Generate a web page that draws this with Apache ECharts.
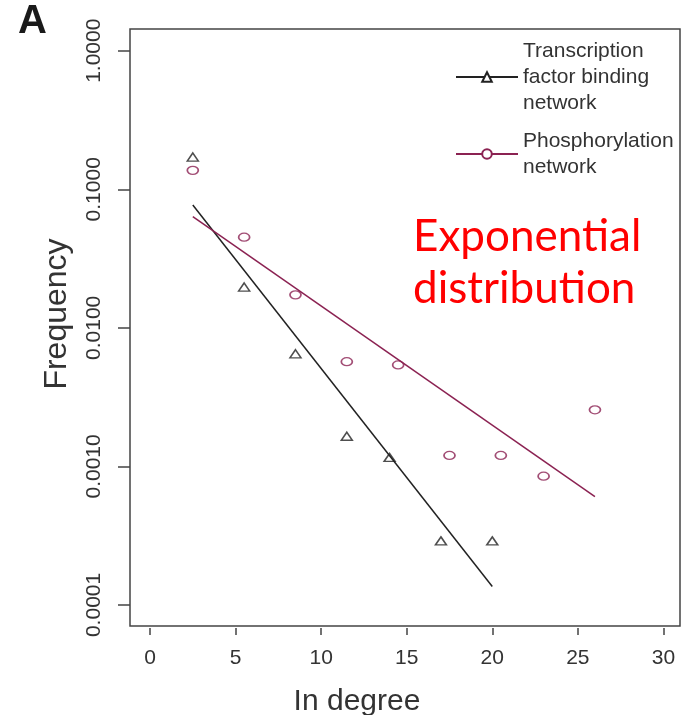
<!DOCTYPE html>
<html>
<head>
<meta charset="utf-8">
<script src="https://cdn.jsdelivr.net/npm/echarts@6/dist/echarts.min.js"></script>
<style>
  html, body { margin: 0; padding: 0; background: #fff; }
  #chart { width: 683px; height: 715px; }
</style>
</head>
<body>
<div id="chart"></div>
<script>
// in degree / frequency
var tfDegree = [2.5, 5.5, 8.5, 11.5, 14, 17, 20];
var tfFreq = [0.171, 0.0197, 0.0065, 0.00165, 0.00116, 0.00029, 0.00029];
var phDegree = [2.5, 5.5, 8.5, 11.5, 14.5, 17.5, 20.5, 23, 26];
var phFreq = [0.137, 0.0451, 0.0173, 0.0057, 0.0054, 0.0012, 0.0012, 0.00085, 0.00256];
// fitted exponential lines (end points)
var tfFitX = [2.5, 20];
var tfFitY = [0.0771, 0.000136];
var phFitX = [2.5, 26];
var phFitY = [0.0634, 0.000605];
// ticks
var xTicks = [0, 5, 10, 15, 20, 25, 30];
var yTicks = [0.0001, 0.001, 0.01, 0.1, 1];

var tfName = 'Transcription\nfactor binding\nnetwork';
var phName = 'Phosphorylation\nnetwork';
var black = '#222';
var purple = '#8B2252';
var font = 'Liberation Sans, Arial, sans-serif';

function pts(xs, ys) {
  return xs.map(function (x, i) { return [x, Math.log10(ys[i])]; });
}
var yTickLog = yTicks.map(function (v) { return Math.log10(v); });

var chart = echarts.init(document.getElementById('chart'));
chart.setOption({
  animation: false,
  backgroundColor: '#fff',
  textStyle: { fontFamily: font },
  grid: {
    left: 130, right: 3, top: 29, bottom: 89,
    outerBoundsMode: 'none',
    show: true, borderColor: '#444', borderWidth: 1.5
  },
  legend: {
    orient: 'vertical',
    left: 450, top: 33,
    itemWidth: 62, itemHeight: 12, itemGap: 12,
    textStyle: { fontSize: 21, lineHeight: 26, color: '#333', fontFamily: font },
    data: [tfName, phName]
  },
  xAxis: {
    type: 'value',
    min: -1.17, max: 30.97,
    offset: 2,
    name: 'In degree',
    nameLocation: 'middle',
    nameGap: 59,
    nameTextStyle: { fontSize: 30, color: '#333', fontFamily: font, padding: [0, 96, 0, 0] },
    axisLine: { show: false, onZero: false },
    splitLine: { show: false },
    axisTick: { customValues: xTicks, length: 7, lineStyle: { color: '#444', width: 1.5 } },
    axisLabel: { customValues: xTicks, fontSize: 21, color: '#333', margin: 20 }
  },
  yAxis: {
    type: 'value',
    min: -4.152, max: 0.157,
    name: 'Frequency',
    nameLocation: 'middle',
    nameGap: 57,
    nameTextStyle: { fontSize: 32, color: '#333', fontFamily: font, padding: [0, 0, 0, 27] },
    axisLine: { show: false, onZero: false },
    splitLine: { show: false },
    axisTick: { customValues: yTickLog, length: 12, lineStyle: { color: '#444', width: 1.5 } },
    axisLabel: {
      customValues: yTickLog, rotate: 90, fontSize: 21, color: '#333', margin: 25,
      formatter: function (v) { return Math.pow(10, v).toFixed(4); }
    }
  },
  series: [
    {
      name: tfName, type: 'line', data: pts(tfFitX, tfFitY),
      symbol: 'emptyTriangle', showSymbol: false,
      lineStyle: { color: black, width: 1.5 }, itemStyle: { color: black }
    },
    {
      name: phName, type: 'line', data: pts(phFitX, phFitY),
      symbol: 'emptyCircle', showSymbol: false,
      lineStyle: { color: purple, width: 1.5 }, itemStyle: { color: purple }
    },
    {
      name: 'tf points', type: 'scatter', data: pts(tfDegree, tfFreq),
      symbol: 'triangle', symbolSize: [11, 8],
      itemStyle: { color: 'rgba(0,0,0,0)', borderColor: black, borderWidth: 1.5 }
    },
    {
      name: 'ph points', type: 'scatter', data: pts(phDegree, phFreq),
      symbol: 'circle', symbolSize: [11, 8],
      itemStyle: { color: 'rgba(0,0,0,0)', borderColor: purple, borderWidth: 1.5 }
    }
  ],
  graphic: [
    {
      type: 'text', left: 18, top: 2,
      style: { text: 'A', font: 'bold 40px ' + font, fill: '#1a1a1a' }
    },
    {
      type: 'text', left: 413, top: 211,
      style: { text: 'Exponential\ndistribution', font: '44px Lato, sans-serif', lineHeight: 52, fill: '#ff0000' }
    }
  ]
});
</script>
</body>
</html>
